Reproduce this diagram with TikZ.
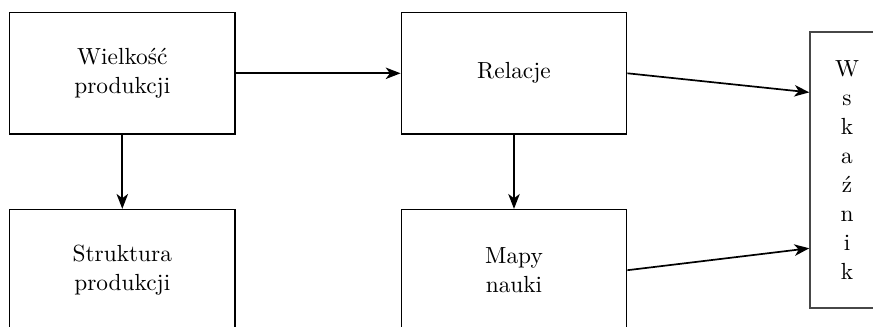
\documentclass[tikz,border=0pt]{standalone}
\usepackage{fontspec}
\usetikzlibrary{arrows.meta,positioning}
\tikzset{
  box/.style={draw=black, line width=0.6pt, minimum width=105.9pt, minimum height=57pt, align=center, inner sep=0pt, font=\fontsize{10.95}{13.6}\selectfont},
  sidebox/.style={draw=black!72, line width=0.7pt, minimum width=34.7pt, minimum height=129.7pt, align=center, inner sep=0pt, font=\fontsize{10.95}{13.6}\selectfont},
  arr/.style={-{Stealth[length=7pt,width=5.4pt,inset=2pt]}, line width=0.8pt}
}
\begin{document}
\begin{tikzpicture}[x=0.4695pt,y=-0.4695pt]
\clip (0,0) rectangle (873,327);
\node[box] (A) at (122.3,73.3) {Wielkość\\produkcji};
\node[box] (B) at (122.3,270.2) {Struktura\\produkcji};
\node[box] (C) at (514,73.3) {Relacje};
\node[box] (D) at (514,270.2) {Mapy\\nauki};
\node[sidebox] (E) at (847,169.9) {W\\s\\k\\a\\ź\\n\\i\\k};
\draw[arr] (A.east) -- (C.west);
\draw[arr] (A.south) -- (B.north);
\draw[arr] (C.south) -- (D.north);
\draw[arr] (C.east) -- ([yshift=-28.8pt]E.north west);
\draw[arr] (D.east) -- ([yshift=-102pt]E.north west);
\end{tikzpicture}
\end{document}
